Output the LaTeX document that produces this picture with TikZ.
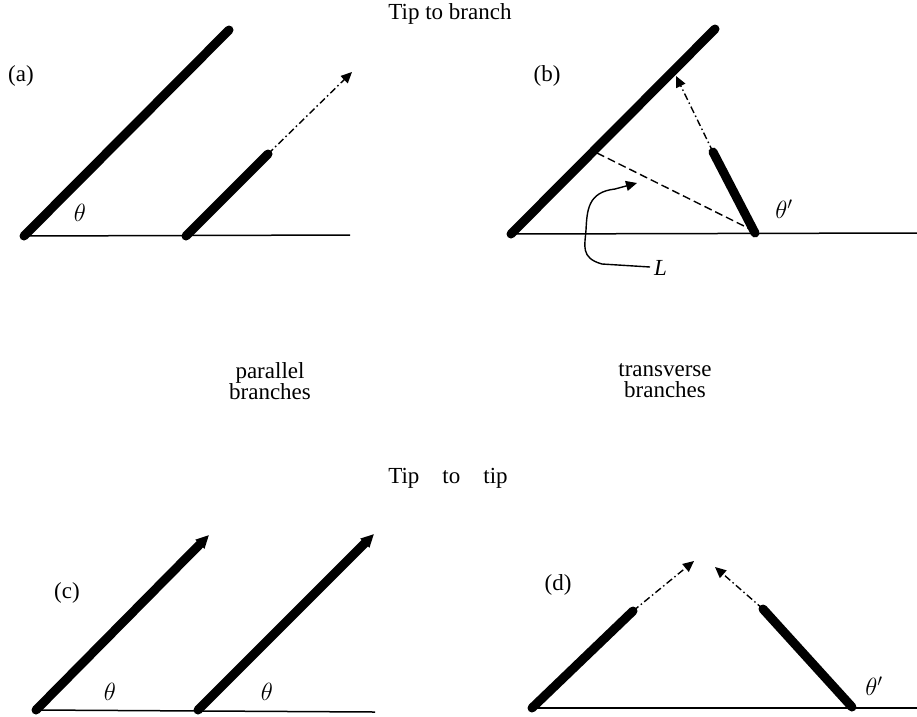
\documentclass[tikz,border=0pt]{standalone}
\usepackage{fontspec}
\setmainfont{Liberation Serif}
\usetikzlibrary{arrows.meta}
\begin{document}
\begin{tikzpicture}[x=1pt,y=-1pt,
  branch/.style={line width=9pt,line cap=round},
  base/.style={line width=1.5pt},
  dashdot/.style={line width=1.4pt,dash pattern=on 7pt off 3pt on 1.5pt off 3pt},
  dashline/.style={line width=1.4pt,dash pattern=on 8pt off 4pt},
  tipl/.style={-{Triangle[length=13pt,width=12pt]}},
  smalltip/.style={-{Triangle[length=11pt,width=10pt]}},
  lbl/.style={font=\fontsize{23}{21}\selectfont,inner sep=0pt},
  ang/.style={font=\fontsize{23}{26}\selectfont,inner sep=0pt}]
\useasboundingbox (0,0) rectangle (917,716);
% titles
\node[lbl] (t1) at (450,14) {Tip to branch};
\node[lbl,align=center] (pb) at (270,381) {parallel\\branches};
\node[lbl,align=center] (tb) at (665,381) {transverse\\branches};
\node[lbl] (t2) at (448,478) {Tip\hspace{1em}to\hspace{1em}tip};
% ---------- (a)
\node[lbl] (la) at (21,76) {(a)};
\coordinate (a0) at (24,236);
\coordinate (a1) at (229,30);
\coordinate (a2) at (186,236);
\coordinate (a3) at (268,154);
\coordinate (a4) at (352,72);
\coordinate (ae) at (350,235);
\draw[base] (a0) -- (ae);
\draw[branch] (a0) -- (a1);
\draw[branch] (a2) -- (a3);
\draw[dashdot,smalltip] (a3) -- (a4);
\node[ang] (tha) at (80,213) {$\theta$};
% ---------- (b)
\node[lbl] (lb) at (547,76) {(b)};
\coordinate (b0) at (511,234);
\coordinate (b1) at (715,29);
\coordinate (b2) at (755,233);
\coordinate (b3) at (713,152);
\coordinate (b4) at (676,76);
\coordinate (b5) at (597,153);
\coordinate (b6) at (750,229);
\coordinate (be) at (917,233);
\draw[base] (b0) -- (be);
\draw[branch] (b0) -- (b1);
\draw[branch] (b2) -- (b3);
\draw[dashdot,smalltip] (b3) -- (b4);
\draw[dashline] (b5) -- (b6);
\node[ang] (thb) at (784,209) {$\theta'$};
\node[lbl,anchor=west] (L) at (654,268) {\itshape L};
\coordinate (Ls) at (650,267);
\coordinate (Lt) at (637,183);
\draw[line width=1.4pt,smalltip] (Ls) -- (602,264) .. controls (580,258) and (585,245) .. (586,230)
  .. controls (587,210) and (588,192) .. (615,189) -- (Lt);
% ---------- (c)
\node[lbl] (lc) at (67,593) {(c)};
\coordinate (c0) at (36,710);
\coordinate (c1) at (209,535);
\coordinate (c2) at (198,710);
\coordinate (c3) at (374,534);
\coordinate (ce) at (375,712);
\draw[base] (c0) -- (ce);
\draw[branch,line cap=butt,tipl] (c0) -- (c1);
\draw[branch,line cap=butt,tipl] (c2) -- (c3);
\fill (c0) circle (4.5pt);
\fill (c2) circle (4.5pt);
\node[ang] (thc1) at (110,692) {$\theta$};
\node[ang] (thc2) at (267,692) {$\theta$};
% ---------- (d)
\node[lbl] (ld) at (558,585) {(d)};
\coordinate (d0) at (532,708);
\coordinate (d1) at (633,611);
\coordinate (d2) at (694,561);
\coordinate (d3) at (852,707);
\coordinate (d4) at (763,609);
\coordinate (d5) at (715,567);
\coordinate (de) at (917,708);
\draw[base] (d0) -- (de);
\draw[branch] (d0) -- (d1);
\draw[branch] (d3) -- (d4);
\draw[dashdot,smalltip] (d1) -- (d2);
\draw[dashdot,smalltip] (d4) -- (d5);
\node[ang] (thd) at (874,686) {$\theta'$};
\end{tikzpicture}
\end{document}
